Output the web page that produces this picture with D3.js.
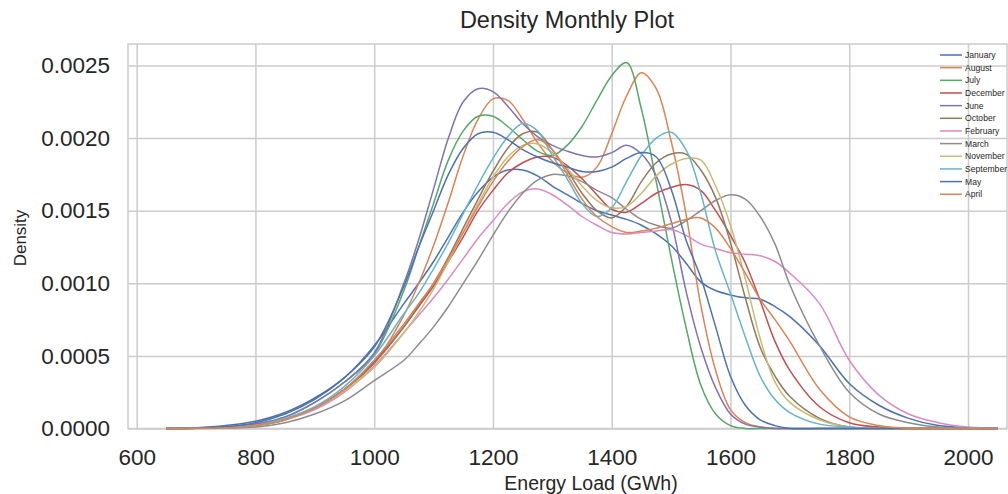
<!DOCTYPE html>
<html>
<head>
<meta charset="utf-8">
<script src="https://cdn.jsdelivr.net/npm/d3@7"></script>
<style>
  body { margin: 0; background: #fff; }
  svg { display: block; }
</style>
</head>
<body>
<script>
const WIDTH = 1008;
const HEIGHT = 494;
const FUENTE = "'Liberation Sans', Arial, sans-serif";

// Meses en el orden de la leyenda
const meses = ["January", "August", "July", "December", "June", "October",
  "February", "March", "November", "September", "May", "April"];

// Paleta "deep" de seaborn (se repite desde el mes 11)
const colores = ["#4c72b0", "#dd8452", "#55a868", "#c44e52", "#8172b3", "#937860",
  "#da8bc3", "#8c8c8c", "#ccb974", "#64b5cd", "#4c72b0", "#dd8452"];

// Carga (GWh) donde se leyó cada densidad
const cargas = [650, 700, 750, 800, 850, 900, 950, 1000,
  1050, 1075, 1100, 1125, 1150, 1175, 1200, 1225, 1250, 1275, 1300, 1325, 1350,
  1375, 1400, 1425, 1450, 1475, 1500, 1525, 1550, 1575, 1600, 1625, 1650, 1675, 1700,
  1750, 1800, 1850, 1900, 1950, 2000, 2050];

// Densidades, una lista por mes
const densidadEnero = [0.000001, 0.000005, 0.00002, 0.00005, 0.00011, 0.00021, 0.00035, 0.00057,
  0.00086, 0.001, 0.00115, 0.00132, 0.00149, 0.00163, 0.00173, 0.00178, 0.00178, 0.00174, 0.00167, 0.00161, 0.00155,
  0.0015, 0.00147, 0.00144, 0.0014, 0.00134, 0.00126, 0.00114, 0.00101, 0.00095, 0.00092, 0.0009, 0.00089, 0.00084, 0.00077,
  0.00057, 0.00031, 0.00016, 0.00007, 0.00002, 0.000005, 0.000001];
const densidadAgosto = [0, 0.000001, 0.000005, 0.00002, 0.00006, 0.00014, 0.00027, 0.00045,
  0.00078, 0.001, 0.00126, 0.00156, 0.00188, 0.00213, 0.00227, 0.00226, 0.00213, 0.00197, 0.00184, 0.00176, 0.00173,
  0.0018, 0.00203, 0.00229, 0.00245, 0.00234, 0.00198, 0.00148, 0.00085, 0.0004, 0.00013, 0.00004, 0.00001, 0, 0,
  0, 0, 0, 0, 0, 0, 0];
const densidadJulio = [0, 0.000002, 0.00001, 0.00003, 0.00008, 0.00018, 0.00032, 0.00051,
  0.00095, 0.00125, 0.00155, 0.00185, 0.00205, 0.00215, 0.00215, 0.00208, 0.00199, 0.00191, 0.00188, 0.00195, 0.00208,
  0.00226, 0.00243, 0.00252, 0.0022, 0.0017, 0.00118, 0.0007, 0.0003, 0.0001, 0.00002, 0, 0, 0, 0,
  0, 0, 0, 0, 0, 0, 0];
const densidadDiciembre = [0, 0.000001, 0.000005, 0.00002, 0.00006, 0.00014, 0.00027, 0.00046,
  0.0007, 0.00084, 0.00098, 0.00115, 0.00132, 0.0015, 0.00164, 0.00176, 0.00183, 0.00187, 0.00187, 0.00181, 0.00172,
  0.00161, 0.00151, 0.00149, 0.00155, 0.00162, 0.00166, 0.00168, 0.00164, 0.0015, 0.00133, 0.00114, 0.00088, 0.0006, 0.0004,
  0.00015, 0.00004, 0.00001, 0, 0, 0, 0];
const densidadJunio = [0, 0.000002, 0.00001, 0.00003, 0.00008, 0.00018, 0.00032, 0.00052,
  0.001, 0.0013, 0.00165, 0.002, 0.00225, 0.00234, 0.00232, 0.00222, 0.0021, 0.00201, 0.00195, 0.00191, 0.00188,
  0.00187, 0.0019, 0.00195, 0.00189, 0.00174, 0.00143, 0.00095, 0.00056, 0.00028, 0.0001, 0.00003, 0.00001, 0, 0,
  0, 0, 0, 0, 0, 0, 0];
const densidadOctubre = [0, 0.000001, 0.000005, 0.00002, 0.00006, 0.00014, 0.00027, 0.00045,
  0.0007, 0.00085, 0.001, 0.00118, 0.00138, 0.00158, 0.00177, 0.00193, 0.00203, 0.00204, 0.00192, 0.00178, 0.00162,
  0.0015, 0.00145, 0.00153, 0.0017, 0.00183, 0.00189, 0.00189, 0.00178, 0.00159, 0.00128, 0.0009, 0.00056, 0.00036, 0.00022,
  0.00007, 0.00001, 0, 0, 0, 0, 0];
const densidadFebrero = [0, 0.000001, 0.000005, 0.00002, 0.00006, 0.00013, 0.00025, 0.00043,
  0.00066, 0.00078, 0.0009, 0.00103, 0.00117, 0.00131, 0.00143, 0.00155, 0.00163, 0.00165, 0.00161, 0.00154, 0.00146,
  0.0014, 0.00135, 0.00134, 0.00135, 0.00136, 0.00137, 0.00133, 0.00127, 0.00124, 0.00121, 0.0012, 0.00119, 0.00115, 0.00107,
  0.00086, 0.00047, 0.00023, 0.0001, 0.00004, 0.00001, 0];
const densidadMarzo = [0, 0, 0.000003, 0.00001, 0.00004, 0.0001, 0.00019, 0.00033,
  0.00047, 0.00058, 0.0007, 0.00084, 0.001, 0.00116, 0.00133, 0.00149, 0.00162, 0.00171, 0.00175, 0.00174, 0.0017,
  0.00164, 0.00159, 0.00151, 0.00144, 0.0014, 0.00138, 0.00143, 0.0015, 0.00157, 0.00161, 0.00158, 0.00146, 0.00127, 0.00099,
  0.00057, 0.00025, 0.0001, 0.00004, 0.00001, 0, 0];
const densidadNoviembre = [0, 0.000001, 0.000005, 0.00002, 0.00006, 0.00014, 0.00026, 0.00042,
  0.00066, 0.0008, 0.00096, 0.00115, 0.00135, 0.00155, 0.00173, 0.00187, 0.00195, 0.00196, 0.0019, 0.00179, 0.00167,
  0.00157, 0.00152, 0.00153, 0.00162, 0.00174, 0.00182, 0.00186, 0.00185, 0.00167, 0.0014, 0.00103, 0.00062, 0.00032, 0.00018,
  0.00006, 0.00001, 0, 0, 0, 0, 0];
const densidadSeptiembre = [0, 0.000001, 0.000005, 0.00002, 0.00007, 0.00015, 0.00029, 0.0005,
  0.00079, 0.00093, 0.0011, 0.00128, 0.00148, 0.00168, 0.00186, 0.00201, 0.0021, 0.00205, 0.00188, 0.00172, 0.00155,
  0.00146, 0.00152, 0.0017, 0.00188, 0.002, 0.00204, 0.00192, 0.00162, 0.00122, 0.00093, 0.00063, 0.00036, 0.0002, 0.00011,
  0.00003, 0.00001, 0, 0, 0, 0, 0];
const densidadMayo = [0, 0.000003, 0.000012, 0.00004, 0.0001, 0.0002, 0.00035, 0.00056,
  0.00098, 0.00125, 0.0015, 0.00175, 0.00193, 0.00203, 0.00204, 0.00199, 0.00192, 0.00187, 0.00183, 0.0018, 0.00177,
  0.00177, 0.0018, 0.00186, 0.0019, 0.00187, 0.00165, 0.0013, 0.00104, 0.0007, 0.00036, 0.00016, 0.00006, 0.00002, 0,
  0, 0, 0, 0, 0, 0, 0];
const densidadAbril = [0, 0.000001, 0.000005, 0.00002, 0.00006, 0.00014, 0.00027, 0.00047,
  0.00072, 0.00086, 0.001, 0.00117, 0.00135, 0.00153, 0.0017, 0.00184, 0.00194, 0.00199, 0.00192, 0.00175, 0.00158,
  0.00146, 0.00139, 0.00135, 0.00136, 0.00138, 0.00141, 0.00144, 0.00145, 0.00138, 0.00124, 0.00107, 0.00089, 0.00075, 0.0006,
  0.00027, 0.00008, 0.00002, 0, 0, 0, 0];

const densidades = [densidadEnero, densidadAgosto, densidadJulio, densidadDiciembre,
  densidadJunio, densidadOctubre, densidadFebrero, densidadMarzo, densidadNoviembre,
  densidadSeptiembre, densidadMayo, densidadAbril];

// Ticks de los ejes
const ticksX = [600, 800, 1000, 1200, 1400, 1600, 1800, 2000];
const ticksY = [0, 0.0005, 0.001, 0.0015, 0.002, 0.0025];

// Caja del gráfico (el borde derecho queda justo en el límite de la imagen)
const IZQ = 128, DER = 1007, ARRIBA = 44, ABAJO = 428.5;

const svg = d3
  .select("body")
  .append("svg")
  .attr("width", WIDTH)
  .attr("height", HEIGHT)
  .style("font-family", FUENTE);

const x = d3.scaleLinear().domain([585.4, 2065.7]).range([IZQ, DER]);
const y = d3.scaleLinear().domain([0, 0.002648]).range([ABAJO, ARRIBA]);

// Ejes con la grilla de seaborn "whitegrid"
const ejeX = svg.append("g")
  .attr("transform", `translate(0,${ABAJO})`)
  .call(d3.axisBottom(x).tickValues(ticksX).tickFormat(d3.format("d"))
    .tickSize(-(ABAJO - ARRIBA)).tickPadding(20.5));
const ejeY = svg.append("g")
  .attr("transform", `translate(${IZQ},0)`)
  .call(d3.axisLeft(y).tickValues(ticksY).tickFormat(d3.format(".4f"))
    .tickSize(-(DER - IZQ)).tickPadding(18));

[ejeX, ejeY].forEach((eje) => {
  eje.attr("font-family", FUENTE).attr("font-size", 22.5);
  eje.select(".domain").remove();
  eje.selectAll(".tick line").attr("stroke", "#cccccc").attr("stroke-width", 1.5);
  eje.selectAll(".tick text").attr("fill", "#262626");
});

// Marco del gráfico
svg.append("rect")
  .attr("x", IZQ)
  .attr("y", ARRIBA)
  .attr("width", DER - IZQ)
  .attr("height", ABAJO - ARRIBA)
  .attr("fill", "none")
  .attr("stroke", "#cccccc")
  .attr("stroke-width", 1.5);

// Una curva de densidad por mes (suavizada para parecerse al KDE)
const linea = d3.line()
  .x((d) => x(d[0]))
  .y((d) => Math.min(y(d[1]), ABAJO))
  .curve(d3.curveCatmullRom.alpha(0.5));

svg.append("g")
  .selectAll("path")
  .data(meses)
  .join("path")
  .attr("d", (m, i) => linea(cargas.map((c, j) => [c, densidades[i][j]])))
  .attr("fill", "none")
  .attr("stroke", (m, i) => colores[i])
  .attr("stroke-width", 1.5);

// Leyenda sin marco
const leyenda = svg.append("g")
  .selectAll("g")
  .data(meses)
  .join("g")
  .attr("transform", (m, i) => `translate(940,${55 + i * 12.66})`);

leyenda.append("line")
  .attr("x1", 0)
  .attr("x2", 22)
  .attr("stroke", (m, i) => colores[i])
  .attr("stroke-width", 1.5);

leyenda.append("text")
  .attr("x", 25)
  .attr("y", 3)
  .attr("font-size", 8.6)
  .attr("fill", "#262626")
  .text((m) => m);

// Títulos
svg.append("text")
  .attr("x", 567)
  .attr("y", 28)
  .attr("text-anchor", "middle")
  .attr("font-size", 23.5)
  .attr("fill", "#262626")
  .text("Density Monthly Plot");

svg.append("text")
  .attr("x", 591)
  .attr("y", 490)
  .attr("text-anchor", "middle")
  .attr("font-size", 19.5)
  .attr("fill", "#262626")
  .text("Energy Load (GWh)");

svg.append("text")
  .attr("transform", "translate(25.5,238) rotate(-90)")
  .attr("text-anchor", "middle")
  .attr("font-size", 17)
  .attr("fill", "#262626")
  .text("Density");
</script>
</body>
</html>
